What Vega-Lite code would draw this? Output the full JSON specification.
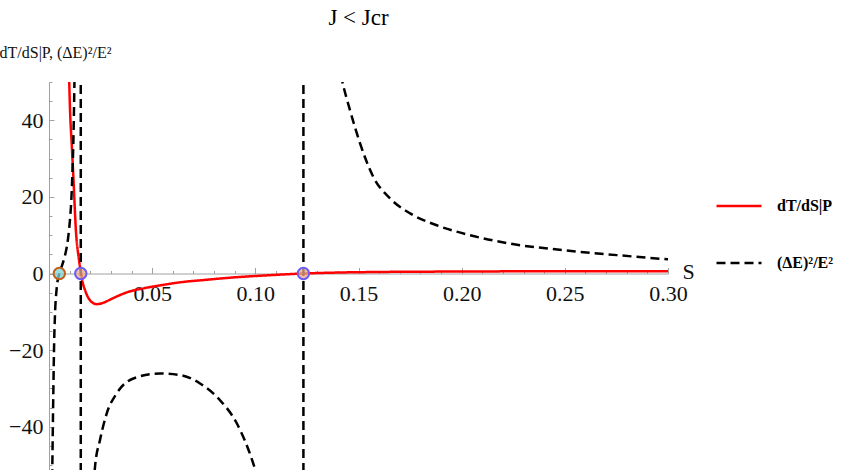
{
  "$schema": "https://vega.github.io/schema/vega-lite/v6.json",
  "width": 619,
  "height": 388,
  "autosize": {"type": "none"},
  "padding": {"left": 49, "top": 82, "right": 176, "bottom": 0},
  "background": "white",
  "title": {"text": "J < Jcr", "font": "Liberation Serif", "fontSize": 23, "fontWeight": "normal", "color": "#000", "anchor": "middle", "frame": "group", "dx": 0, "offset": 14},
  "config": {
    "view": {"stroke": null},
    "axis": {"domainColor": "#a0a0a0", "domainWidth": 1, "tickColor": "#a0a0a0", "tickWidth": 1, "labelFont": "Liberation Serif", "labelFontSize": 22, "labelColor": "#111", "grid": false, "titleFont": "Liberation Serif", "titleColor": "#111", "titleFontWeight": "normal"}
  },
  "datasets": {
    "curves": [
      {"series": "dT/dS|P", "seg": "r1", "S": 0.0093, "v": 60},
      {"series": "dT/dS|P", "seg": "r1", "S": 0.0098, "v": 50},
      {"series": "dT/dS|P", "seg": "r1", "S": 0.0102, "v": 42.6},
      {"series": "dT/dS|P", "seg": "r1", "S": 0.011, "v": 33.9},
      {"series": "dT/dS|P", "seg": "r1", "S": 0.0118, "v": 25.3},
      {"series": "dT/dS|P", "seg": "r1", "S": 0.0131, "v": 10.7},
      {"series": "dT/dS|P", "seg": "r1", "S": 0.0143, "v": 4.5},
      {"series": "dT/dS|P", "seg": "r1", "S": 0.0151, "v": 1.5},
      {"series": "dT/dS|P", "seg": "r1", "S": 0.0156, "v": 0},
      {"series": "dT/dS|P", "seg": "r1", "S": 0.0162, "v": -2},
      {"series": "dT/dS|P", "seg": "r1", "S": 0.0175, "v": -4.4},
      {"series": "dT/dS|P", "seg": "r1", "S": 0.0199, "v": -7},
      {"series": "dT/dS|P", "seg": "r1", "S": 0.0231, "v": -8.0},
      {"series": "dT/dS|P", "seg": "r1", "S": 0.0265, "v": -7.6},
      {"series": "dT/dS|P", "seg": "r1", "S": 0.0304, "v": -6.6},
      {"series": "dT/dS|P", "seg": "r1", "S": 0.0384, "v": -4.8},
      {"series": "dT/dS|P", "seg": "r1", "S": 0.0465, "v": -3.8},
      {"series": "dT/dS|P", "seg": "r1", "S": 0.055, "v": -3.0},
      {"series": "dT/dS|P", "seg": "r1", "S": 0.0635, "v": -2.3},
      {"series": "dT/dS|P", "seg": "r1", "S": 0.075, "v": -1.7},
      {"series": "dT/dS|P", "seg": "r1", "S": 0.09, "v": -1.0},
      {"series": "dT/dS|P", "seg": "r1", "S": 0.105, "v": -0.5},
      {"series": "dT/dS|P", "seg": "r1", "S": 0.1233, "v": 0},
      {"series": "dT/dS|P", "seg": "r1", "S": 0.14, "v": 0.25},
      {"series": "dT/dS|P", "seg": "r1", "S": 0.16, "v": 0.4},
      {"series": "dT/dS|P", "seg": "r1", "S": 0.19, "v": 0.5},
      {"series": "dT/dS|P", "seg": "r1", "S": 0.22, "v": 0.56},
      {"series": "dT/dS|P", "seg": "r1", "S": 0.26, "v": 0.6},
      {"series": "dT/dS|P", "seg": "r1", "S": 0.3, "v": 0.62},

      {"series": "(ΔE)²/E²", "seg": "d1", "S": 0.0008, "v": -90},
      {"series": "(ΔE)²/E²", "seg": "d1", "S": 0.0016, "v": -51},
      {"series": "(ΔE)²/E²", "seg": "d1", "S": 0.0021, "v": -31},
      {"series": "(ΔE)²/E²", "seg": "d1", "S": 0.0025, "v": -18},
      {"series": "(ΔE)²/E²", "seg": "d1", "S": 0.0029, "v": -10.8},
      {"series": "(ΔE)²/E²", "seg": "d1", "S": 0.0037, "v": -4},
      {"series": "(ΔE)²/E²", "seg": "d1", "S": 0.005, "v": 0},
      {"series": "(ΔE)²/E²", "seg": "d1", "S": 0.0065, "v": 2.4},
      {"series": "(ΔE)²/E²", "seg": "d1", "S": 0.0078, "v": 4.8},
      {"series": "(ΔE)²/E²", "seg": "d1", "S": 0.0092, "v": 9},
      {"series": "(ΔE)²/E²", "seg": "d1", "S": 0.0102, "v": 14.3},
      {"series": "(ΔE)²/E²", "seg": "d1", "S": 0.0108, "v": 19},
      {"series": "(ΔE)²/E²", "seg": "d1", "S": 0.0113, "v": 25.6},
      {"series": "(ΔE)²/E²", "seg": "d1", "S": 0.0118, "v": 34.3},
      {"series": "(ΔE)²/E²", "seg": "d1", "S": 0.0123, "v": 49},
      {"series": "(ΔE)²/E²", "seg": "d1", "S": 0.0127, "v": 65},
      {"series": "(ΔE)²/E²", "seg": "d1", "S": 0.013, "v": 80},

      {"series": "(ΔE)²/E²", "seg": "p1", "S": 0.0154, "v": -2000},
      {"series": "(ΔE)²/E²", "seg": "p1", "S": 0.0154, "v": 2000},

      {"series": "(ΔE)²/E²", "seg": "d2", "S": 0.0185, "v": -110},
      {"series": "(ΔE)²/E²", "seg": "d2", "S": 0.0205, "v": -68},
      {"series": "(ΔE)²/E²", "seg": "d2", "S": 0.0223, "v": -50.5},
      {"series": "(ΔE)²/E²", "seg": "d2", "S": 0.0247, "v": -43.5},
      {"series": "(ΔE)²/E²", "seg": "d2", "S": 0.028, "v": -36.5},
      {"series": "(ΔE)²/E²", "seg": "d2", "S": 0.0328, "v": -31.3},
      {"series": "(ΔE)²/E²", "seg": "d2", "S": 0.0409, "v": -27.4},
      {"series": "(ΔE)²/E²", "seg": "d2", "S": 0.0538, "v": -26.1},
      {"series": "(ΔE)²/E²", "seg": "d2", "S": 0.0635, "v": -26.5},
      {"series": "(ΔE)²/E²", "seg": "d2", "S": 0.0732, "v": -28.7},
      {"series": "(ΔE)²/E²", "seg": "d2", "S": 0.0829, "v": -33.1},
      {"series": "(ΔE)²/E²", "seg": "d2", "S": 0.091, "v": -39.1},
      {"series": "(ΔE)²/E²", "seg": "d2", "S": 0.099, "v": -49.6},
      {"series": "(ΔE)²/E²", "seg": "d2", "S": 0.102, "v": -55},
      {"series": "(ΔE)²/E²", "seg": "d2", "S": 0.106, "v": -65},

      {"series": "(ΔE)²/E²", "seg": "p2", "S": 0.1233, "v": -2000},
      {"series": "(ΔE)²/E²", "seg": "p2", "S": 0.1233, "v": 2000},

      {"series": "(ΔE)²/E²", "seg": "d3", "S": 0.1365, "v": 70},
      {"series": "(ΔE)²/E²", "seg": "d3", "S": 0.1395, "v": 57},
      {"series": "(ΔE)²/E²", "seg": "d3", "S": 0.1422, "v": 50},
      {"series": "(ΔE)²/E²", "seg": "d3", "S": 0.1459, "v": 42.6},
      {"series": "(ΔE)²/E²", "seg": "d3", "S": 0.1508, "v": 33.9},
      {"series": "(ΔE)²/E²", "seg": "d3", "S": 0.1572, "v": 25.2},
      {"series": "(ΔE)²/E²", "seg": "d3", "S": 0.1653, "v": 19.6},
      {"series": "(ΔE)²/E²", "seg": "d3", "S": 0.175, "v": 15.7},
      {"series": "(ΔE)²/E²", "seg": "d3", "S": 0.1879, "v": 12.6},
      {"series": "(ΔE)²/E²", "seg": "d3", "S": 0.2041, "v": 10.0},
      {"series": "(ΔE)²/E²", "seg": "d3", "S": 0.2235, "v": 7.8},
      {"series": "(ΔE)²/E²", "seg": "d3", "S": 0.2493, "v": 6.1},
      {"series": "(ΔE)²/E²", "seg": "d3", "S": 0.2752, "v": 4.8},
      {"series": "(ΔE)²/E²", "seg": "d3", "S": 0.3, "v": 3.7}
    ],
    "rootA": [{"S": 0.005, "v": 0}],
    "rootB": [{"S": 0.0154, "v": 0}, {"S": 0.1233, "v": 0}]
  },
  "layer": [
    {
      "data": {"name": "curves"},
      "mark": {"type": "line", "clip": true, "strokeWidth": 2.5, "interpolate": "monotone"},
      "encoding": {
        "x": {"field": "S", "type": "quantitative", "scale": {"domain": [0, 0.3], "nice": false, "zero": false},
          "axis": {"orient": "bottom", "offset": -196.5, "values": [0.05, 0.1, 0.15, 0.2, 0.25, 0.3], "format": ".2f", "tickSize": -6, "labelPadding": 16, "labelFlush": false, "labelOverlap": false, "title": "S", "titleX": 633, "titleY": -2, "titleAlign": "left", "titleBaseline": "middle", "titleFontSize": 22}},
        "y": {"field": "v", "type": "quantitative", "scale": {"domain": [-51.3, 50], "nice": false, "zero": false},
          "axis": {"orient": "left", "values": [-40, -20, 0, 20, 40], "tickSize": -5, "labelPadding": 11, "labelFlush": false, "labelOverlap": false, "title": "dT/dS|P, (ΔE)²/E²", "titleAngle": 0, "titleX": 6, "titleY": -30, "titleAlign": "center", "titleBaseline": "middle", "titleFontSize": 16}},
        "color": {"field": "series", "type": "nominal", "scale": {"domain": ["dT/dS|P", "(ΔE)²/E²"], "range": ["#ff0000", "#000000"]},
          "legend": {"orient": "none", "legendX": 666, "legendY": 100, "title": null, "symbolType": "stroke", "symbolSize": 2025, "symbolStrokeWidth": 2.5, "labelFont": "Liberation Serif", "labelFontSize": 16, "labelFontWeight": "bold", "labelColor": "#000", "rowPadding": 25, "labelOffset": 14}},
        "strokeDash": {"field": "series", "type": "nominal", "scale": {"domain": ["dT/dS|P", "(ΔE)²/E²"], "range": [[1, 0], [9, 5]]},
          "legend": {"orient": "none", "legendX": 666, "legendY": 100, "title": null, "symbolType": "stroke", "symbolSize": 2025, "symbolStrokeWidth": 2.5, "labelFont": "Liberation Serif", "labelFontSize": 16, "labelFontWeight": "bold", "labelColor": "#000", "rowPadding": 25, "labelOffset": 14}},
        "detail": {"field": "seg", "type": "nominal"}
      }
    },
    {
      "data": {"name": "rootA"},
      "mark": {"type": "circle", "size": 130, "fill": "#7ed3d6", "fillOpacity": 0.75, "stroke": "#c0601a", "strokeWidth": 2, "opacity": 1},
      "encoding": {
        "x": {"field": "S", "type": "quantitative",
          "axis": {"orient": "bottom", "offset": -196.5, "values": [0.01, 0.02, 0.03, 0.04, 0.06, 0.07, 0.08, 0.09, 0.11, 0.12, 0.13, 0.14, 0.16, 0.17, 0.18, 0.19, 0.21, 0.22, 0.23, 0.24, 0.26, 0.27, 0.28, 0.29], "labels": false, "domain": false, "tickSize": -3, "title": null}},
        "y": {"field": "v", "type": "quantitative",
          "axis": {"orient": "left", "values": [-50, -45, -35, -30, -25, -15, -10, -5, 5, 10, 15, 25, 30, 35, 45, 50], "labels": false, "domain": false, "tickSize": -3, "title": null}}
      }
    },
    {
      "data": {"name": "rootB"},
      "mark": {"type": "circle", "size": 130, "fill": "#eaa988", "fillOpacity": 0.75, "stroke": "#6a5cf5", "strokeWidth": 2, "opacity": 1},
      "encoding": {
        "x": {"field": "S", "type": "quantitative", "axis": null},
        "y": {"field": "v", "type": "quantitative", "axis": null}
      }
    }
  ],
  "resolve": {"axis": {"x": "independent", "y": "independent"}}
}
